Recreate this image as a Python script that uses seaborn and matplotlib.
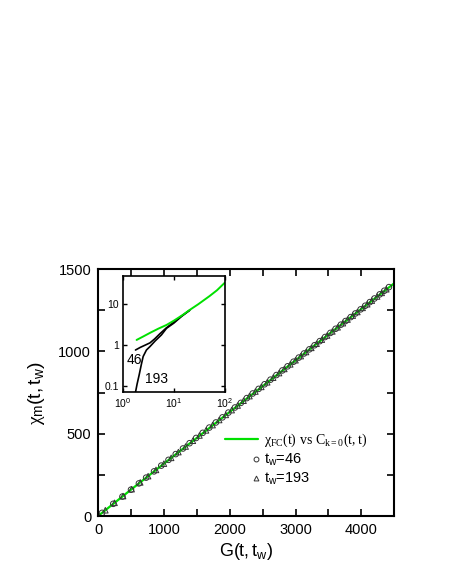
import matplotlib
matplotlib.use("Agg")
import matplotlib.pyplot as plt
import seaborn as sns
from matplotlib.lines import Line2D
from matplotlib.legend_handler import HandlerLine2D
from matplotlib.ticker import MultipleLocator, LogLocator, NullLocator

# main panel: chi_m vs G
fc_G = [0, 500, 1000, 1500, 2000, 2500, 3000, 3500, 4000, 4500]
fc_chi = [0, 160, 318, 474, 632, 788, 945, 1102, 1257, 1413]

tw46_G = [60, 230, 370, 500, 620, 730, 850, 960, 1070, 1180, 1290, 1390, 1490,
          1590, 1690, 1790, 1890, 1980, 2080, 2170, 2260, 2350, 2440, 2530,
          2620, 2710, 2800, 2880, 2970, 3050, 3130, 3210, 3290, 3370, 3450,
          3530, 3610, 3690, 3760, 3840, 3910, 3990, 4060, 4130, 4200, 4280,
          4350, 4420]
tw46_chi = [19, 74, 118, 160, 198, 233, 271, 306, 341, 376, 410, 442, 474,
            505, 537, 568, 599, 628, 659, 687, 716, 744, 772, 800, 828, 856,
            884, 909, 937, 962, 987, 1012, 1037, 1062, 1087, 1112, 1137, 1162,
            1184, 1208, 1230, 1255, 1277, 1299, 1321, 1346, 1368, 1390]

tw193_G = [110, 250, 380, 510, 640, 760, 880, 1000, 1110, 1220, 1330, 1440,
           1540, 1640, 1740, 1840, 1940, 2030, 2120, 2210, 2300, 2390, 2480,
           2570, 2660, 2750, 2830, 2920, 3000, 3080, 3160, 3240, 3320, 3400,
           3480, 3560, 3640, 3720, 3790, 3870, 3940, 4020, 4090, 4160, 4240,
           4310, 4380]
tw193_chi = [35, 80, 121, 163, 204, 242, 280, 318, 353, 388, 422, 457, 489,
             520, 552, 583, 614, 643, 671, 700, 728, 756, 784, 812, 840, 868,
             893, 921, 946, 971, 996, 1021, 1046, 1071, 1096, 1121, 1146, 1171,
             1193, 1217, 1239, 1264, 1286, 1308, 1333, 1355, 1377]

# inset (log-log)
in_fc_x = [1.86, 2.5, 3.5, 5, 7.2, 10, 15, 20, 30, 50, 70, 100]
in_fc_y = [1.32, 1.6, 2.0, 2.5, 3.07, 3.9, 5.4, 7.0, 9.8, 15.5, 21.5, 33]
in_46_x = [1.77, 2.2, 2.8, 3.4, 4.2, 5.3, 7, 10, 14, 20.6]
in_46_y = [0.75, 0.87, 1.0, 1.12, 1.4, 1.86, 2.55, 3.6, 5.0, 7.0]
in_193_x = [1.77, 1.9, 2.09, 2.3, 2.5, 2.9, 3.4, 4.3, 5.7, 7.2, 10, 14, 20]
in_193_y = [0.07, 0.11, 0.186, 0.33, 0.52, 0.75, 0.91, 1.25, 1.75, 2.55, 3.4, 4.9, 6.9]

green = "#00e000"
mk_col = "#333333"


class RightMarker(HandlerLine2D):
    # single marker drawn near the right end of the handle box
    def get_xdata(self, legend, xdescent, ydescent, width, height, fontsize):
        xs = [-xdescent + 0.84 * width, -xdescent + width]
        return xs, xs


sns.set_style("ticks")
plt.rcParams["font.family"] = ["Liberation Sans", "DejaVu Sans"]
plt.rcParams["mathtext.fontset"] = "custom"
plt.rcParams["mathtext.rm"] = "Liberation Serif"
plt.rcParams["mathtext.it"] = "Liberation Serif"
plt.rcParams["mathtext.sf"] = "Liberation Sans"
for k in ["text.color", "axes.labelcolor", "xtick.color", "ytick.color", "axes.edgecolor"]:
    plt.rcParams[k] = "black"

fig = plt.figure(figsize=(4.5, 5.82), dpi=100)
ax = fig.add_axes([0.218, 0.1134, 0.658, 0.4244])

sns.lineplot(x=fc_G, y=fc_chi, ax=ax, color=green, lw=1.6, zorder=1)
sns.scatterplot(x=tw46_G, y=tw46_chi, ax=ax, marker="o", s=16,
                facecolor="none", edgecolor=mk_col, linewidth=0.7, zorder=2)
sns.scatterplot(x=tw193_G, y=tw193_chi, ax=ax, marker="^", s=16,
                facecolor="none", edgecolor=mk_col, linewidth=0.7, zorder=2)

ax.set_xlim(0, 4500)
ax.set_ylim(0, 1500)
ax.xaxis.set_major_locator(MultipleLocator(1000))
ax.xaxis.set_minor_locator(MultipleLocator(500))
ax.yaxis.set_major_locator(MultipleLocator(500))
ax.yaxis.set_minor_locator(MultipleLocator(250))
ax.tick_params(which="both", direction="in", top=True, right=True,
               labelsize=10.5, width=1.2, pad=5, length=5)
for sp in ax.spines.values():
    sp.set_linewidth(1.5)
ax.set_xlabel(r"$\mathsf{G(t,t_w)}$", fontsize=13, labelpad=3)
ax.set_ylabel(r"$\chi_{\mathsf{m}}\mathsf{(t,t_w)}$", fontsize=14, labelpad=8)

handles = [
    Line2D([], [], color=green, lw=1.6),
    Line2D([], [], ls="none", marker="o", ms=3.5, mfc="none", mec=mk_col, mew=0.7),
    Line2D([], [], ls="none", marker="^", ms=3.5, mfc="none", mec=mk_col, mew=0.7),
]
labels = [r"$\mathrm{\chi_{FC}(t)\ vs\ C_{k{=}0}(t,t)}$",
          r"$\mathsf{t_w}$=46", r"$\mathsf{t_w}$=193"]
leg = ax.legend(handles, labels, loc="upper left", bbox_to_anchor=(0.41, 0.365),
                frameon=False, fontsize=10, handlelength=2.4,
                handletextpad=0.4, labelspacing=0.2, borderaxespad=0,
                handler_map={handles[1]: RightMarker(numpoints=1),
                             handles[2]: RightMarker(numpoints=1)})
for t in leg.get_texts()[1:]:
    t.set_fontsize(10.5)

# inset
ins = fig.add_axes([0.273, 0.3265, 0.2267, 0.1993])
sns.lineplot(x=in_46_x, y=in_46_y, ax=ins, color="black", lw=1.2)
sns.lineplot(x=in_193_x, y=in_193_y, ax=ins, color="black", lw=1.2)
sns.lineplot(x=in_fc_x, y=in_fc_y, ax=ins, color=green, lw=1.4)
ins.set_xscale("log")
ins.set_yscale("log")
ins.set_xlim(1, 100)
ins.set_ylim(0.071, 48)
ins.xaxis.set_major_locator(LogLocator(base=10, numticks=5))
ins.xaxis.set_minor_locator(NullLocator())
ins.yaxis.set_minor_locator(NullLocator())
ins.set_yticks([0.1, 1, 10])
ins.set_yticklabels(["0.1", "1", "10"])
ins.tick_params(which="both", direction="in", top=True, right=True,
                labelsize=7.5, length=3, width=1, pad=3)
for sp in ins.spines.values():
    sp.set_linewidth(1.2)
ins.text(1.2, 0.64, "46", fontsize=10, ha="left", va="top")
ins.text(2.7, 0.1, "193", fontsize=10, ha="left", va="bottom")

fig.savefig("out.png", dpi=100)
